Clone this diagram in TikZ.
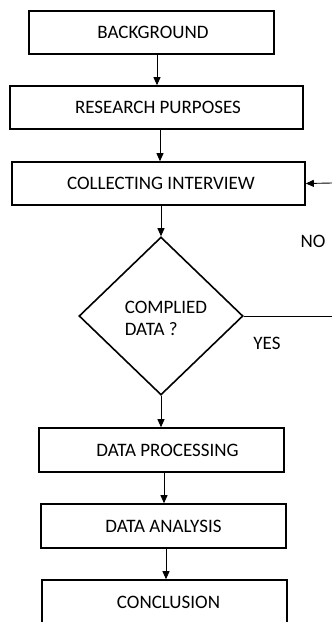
\documentclass[tikz,border=0pt]{standalone}
\usepackage{fontspec}
\setmainfont{Carlito}
\usetikzlibrary{shapes.geometric,arrows.meta}
\begin{document}
\begin{tikzpicture}[x=1pt,y=-1pt,
  box/.style={draw,line width=1.6pt,minimum height=43pt,inner sep=0pt,font=\fontsize{19}{22}\selectfont},
  arr/.style={line width=0.9pt,-{Triangle[length=8pt,width=7pt]}},
  lab/.style={font=\fontsize{19}{22}\selectfont,inner sep=0pt}]
\useasboundingbox (0,0) rectangle (332,622);
\clip (0,0) rectangle (332,622);
\node[box,minimum width=245pt] (bg) at (151.5,32.5) {\hspace*{3pt}BACKGROUND};
\node[box,minimum width=293pt] (rp) at (156.5,107.5) {\hspace*{3pt}RESEARCH PURPOSES};
\node[box,minimum width=293pt] (ci) at (158.5,183.5) {\hspace*{5pt}COLLECTING INTERVIEW};
\node[draw,diamond,line width=1.6pt,minimum width=164pt,minimum height=158pt,inner sep=0pt] (dm) at (161,316) {};
\node[lab,align=left] (dq) at (166,318) {COMPLIED\\DATA ?};
\node[box,minimum width=245pt,minimum height=44pt] (dp) at (161.5,450) {\hspace*{12pt}DATA PROCESSING};
\node[box,minimum width=245pt,minimum height=44pt] (da) at (163.5,526) {DATA ANALYSIS};
\node[box,minimum width=245pt,minimum height=44pt] (cc) at (164.5,602) {\hspace*{8pt}CONCLUSION};
\node[lab] (no) at (313,241) {NO};
\node[lab] (yes) at (267,343) {YES};
\coordinate (nin) at (332,183);
\coordinate (nout) at (332,316);
\draw[arr] ([xshift=5.5]bg.south) -- ([xshift=5.5]bg.south |- rp.north);
\draw[arr] ([xshift=3.5]rp.south) -- ([xshift=3.5]rp.south |- ci.north);
\draw[arr] (ci.south -| dm.north) -- (dm.north);
\draw[arr] (dm.south) -- (dm.south |- dp.north);
\draw[arr] ([xshift=2.5]dp.south) -- ([xshift=2.5]dp.south |- da.north);
\draw[arr] ([xshift=2.5]da.south) -- ([xshift=2.5]da.south |- cc.north);
\draw[arr] (nin) -- (ci.east);
\draw[line width=0.9pt] (dm.east) -- (nout);
\end{tikzpicture}
\end{document}
